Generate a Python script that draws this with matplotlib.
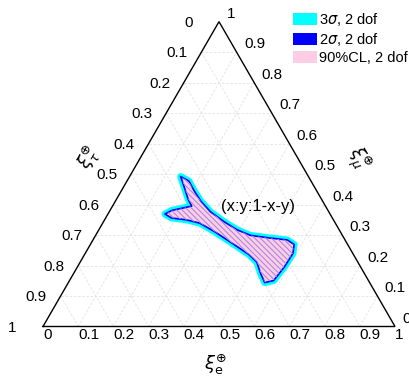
import numpy as np
import matplotlib.pyplot as plt
from matplotlib.patches import Polygon, Patch

plt.rcParams['font.family'] = ['Liberation Sans', 'DejaVu Sans']
plt.rcParams['mathtext.fontset'] = 'dejavusans'
plt.rcParams['hatch.linewidth'] = 0.8

# allowed region boundary, ternary fractions (xi_e, xi_mu); xi_tau = 1 - e - mu
xi_e = [0.145, 0.176, 0.204, 0.225, 0.201, 0.176, 0.162, 0.187, 0.232, 0.276,
        0.336, 0.401, 0.467, 0.502, 0.532, 0.558, 0.580, 0.588, 0.590, 0.579,
        0.552, 0.501, 0.440, 0.393, 0.342, 0.288, 0.243, 0.208, 0.176]
xi_mu = [0.492, 0.453, 0.417, 0.395, 0.388, 0.381, 0.369, 0.356, 0.350, 0.339,
         0.309, 0.273, 0.236, 0.211, 0.173, 0.144, 0.151, 0.196, 0.240, 0.269,
         0.284, 0.290, 0.299, 0.317, 0.344, 0.376, 0.411, 0.444, 0.477]

ticks = np.round(np.arange(0, 1.01, 0.1), 1)
tick_labels = ['0', '0.1', '0.2', '0.3', '0.4', '0.5', '0.6', '0.7', '0.8', '0.9', '1']
legend_labels = [r'3$\sigma$, 2 dof', r'2$\sigma$, 2 dof', '90%CL, 2 dof']
legend_colors = ['#00ffff', '#0000ff', '#ffcce6']

H = np.sqrt(3) / 2


def tern(e, mu):
    e = np.asarray(e, float)
    mu = np.asarray(mu, float)
    return e + mu / 2, mu * H


fig = plt.figure(figsize=(4.10, 3.79), dpi=100)
ax = fig.add_axes([0, 0, 1, 1])
ax.set_xlim(-43 / 352, 367 / 352)
ax.set_ylim(-52.5 / 352, 326.5 / 352)
ax.axis('off')

# grid lines, three families
for t in ticks[1:-1]:
    gk = dict(color='#e2e2e2', lw=0.6, ls=(0, (3, 2)), zorder=1)
    x, y = tern([t, t], [0, 1 - t])          # const e
    ax.plot(x, y, **gk)
    x, y = tern([0, 1 - t], [t, t])          # const mu
    ax.plot(x, y, **gk)
    x, y = tern([0, 1 - t], [1 - t, 0])      # const tau
    ax.plot(x, y, **gk)

# triangle frame
x, y = tern([0, 1, 0, 0], [0, 0, 1, 0])
ax.plot(x, y, color='k', lw=1.0, zorder=5, solid_joinstyle='miter')

# contours
px, py = tern(xi_e, xi_mu)
pts = np.column_stack([px, py])
ax.add_patch(Polygon(pts, closed=True, facecolor=legend_colors[0],
                     edgecolor=legend_colors[0], lw=5, joinstyle='round', zorder=2))
ax.add_patch(Polygon(pts, closed=True, facecolor=legend_colors[2],
                     edgecolor=legend_colors[1], lw=1.2, joinstyle='round', zorder=3))
ax.add_patch(Polygon(pts, closed=True, facecolor='none', edgecolor='#a58de0',
                     hatch='\\\\\\\\\\\\', lw=0, zorder=3))

# tick labels
fs = 11
for t, lab in zip(ticks, tick_labels):
    x, y = tern(t, 0)
    ax.text(x, y - 0.004, lab, ha='left', va='top', fontsize=fs)
    x, y = tern(0, 1 - t)
    ax.text(x - 0.099, y - 0.003, lab, ha='left', va='center', fontsize=fs)
    x, y = tern(1 - t, t)
    ax.text(x + 0.021, y + 0.022, lab, ha='left', va='center', fontsize=fs)

# axis titles
ax.text(0.49, -0.11, r'$\xi_{\mathrm{e}}^{\oplus}$', ha='center', va='center', fontsize=13)
ax.text(0.13, 0.48, r'$\xi_{\tau}^{\oplus}$', ha='center', va='center', fontsize=13,
        rotation=60)
ax.text(0.895, 0.475, r'$\xi_{\mu}^{\oplus}$', ha='center', va='center', fontsize=13,
        rotation=-60)

ax.text(0.611, 0.342, '(x:y:1-x-y)', ha='center', va='center', fontsize=12, zorder=6)

handles = [Patch(facecolor=c, edgecolor='none') for c in legend_colors]
ax.legend(handles, legend_labels, loc='upper left', bbox_to_anchor=(290 / 410, 1 - 8 / 379),
          bbox_transform=fig.transFigure, frameon=False, fontsize=10.5,
          handlelength=1.65, handleheight=0.95, labelspacing=0.2, handletextpad=0.15,
          borderpad=0.2, borderaxespad=0)

fig.savefig('out.png', dpi=100)
